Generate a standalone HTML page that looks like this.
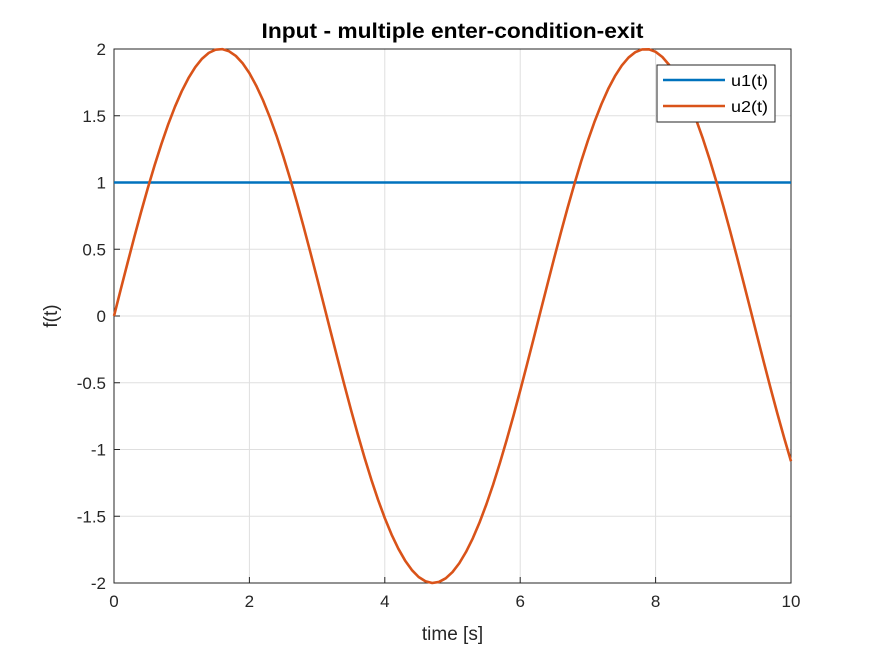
<!DOCTYPE html>
<html><head><meta charset="utf-8"><style>
body{margin:0;background:#fff;}
svg{display:block;font-family:"Liberation Sans",Arial,sans-serif;}
</style></head><body>
<svg id="chart" width="875" height="656"></svg>
<script>
const xTicks=[0,2,4,6,8,10];
const yTicks=[-2,-1.5,-1,-0.5,0,0.5,1,1.5,2];
const yTickLabels=["-2","-1.5","-1","-0.5","0","0.5","1","1.5","2"];
const tValues=[0,0.1,0.2,0.3,0.4,0.5,0.6,0.7,0.8,0.9,1,1.1,1.2,1.3,1.4,1.5,1.6,1.7,1.8,1.9,2,2.1,2.2,2.3,2.4,2.5,2.6,2.7,2.8,2.9,3,3.1,3.2,3.3,3.4,3.5,3.6,3.7,3.8,3.9,4,4.1,4.2,4.3,4.4,4.5,4.6,4.7,4.8,4.9,5,5.1,5.2,5.3,5.4,5.5,5.6,5.7,5.8,5.9,6,6.1,6.2,6.3,6.4,6.5,6.6,6.7,6.8,6.9,7,7.1,7.2,7.3,7.4,7.5,7.6,7.7,7.8,7.9,8,8.1,8.2,8.3,8.4,8.5,8.6,8.7,8.8,8.9,9,9.1,9.2,9.3,9.4,9.5,9.6,9.7,9.8,9.9,10];
const u1T=[0,10];
const u1Values=[1,1];
const u2Values=[0,0.200,0.397,0.591,0.779,0.959,1.129,1.288,1.435,1.567,1.683,1.782,1.864,1.927,1.971,1.995,1.999,1.983,1.948,1.893,1.819,1.726,1.617,1.491,1.351,1.197,1.031,0.855,0.670,0.478,0.282,0.083,-0.117,-0.315,-0.511,-0.702,-0.885,-1.060,-1.224,-1.376,-1.514,-1.637,-1.743,-1.832,-1.903,-1.955,-1.987,-2.000,-1.992,-1.965,-1.918,-1.852,-1.767,-1.665,-1.546,-1.411,-1.263,-1.101,-0.929,-0.748,-0.559,-0.364,-0.166,0.034,0.233,0.430,0.623,0.810,0.988,1.157,1.314,1.458,1.587,1.701,1.797,1.876,1.936,1.976,1.997,1.998,1.979,1.940,1.881,1.804,1.709,1.597,1.469,1.326,1.170,1.002,0.824,0.638,0.446,0.249,0.050,-0.150,-0.349,-0.544,-0.733,-0.915,-1.088];

const NS="http://www.w3.org/2000/svg";
const svg=document.getElementById('chart');
const L=114,R=791,T=49,B=583;
const xs=v=>L+(v-0)/(10-0)*(R-L);
const ys=v=>B-(v+2)/4*(B-T);
function mk(tag,attrs,parent){const e=document.createElementNS(NS,tag);for(const k in attrs)e.setAttribute(k,attrs[k]);(parent||svg).appendChild(e);return e;}

const bg=mk('rect',{x:L,y:T,width:R-L,height:B-T,fill:'#fff'});



xTicks.forEach(v=>{
  const g=mk('line',{x1:xs(v),x2:xs(v),y1:T,y2:B,stroke:'#dfdfdf','stroke-width':1});
  
  
  const tk=mk('line',{x1:xs(v),x2:xs(v),y1:B,y2:B-6,stroke:'#262626'});
  
  
  const t=mk('text',{x:xs(v),y:B+24,'text-anchor':'middle','font-size':17,fill:'#262626'});
  t.textContent=v;
  
  
});
yTicks.forEach((v,i)=>{
  const g=mk('line',{x1:L,x2:R,y1:ys(v),y2:ys(v),stroke:'#dfdfdf','stroke-width':1});
  
  
  const tk=mk('line',{x1:L,x2:L+6,y1:ys(v),y2:ys(v),stroke:'#262626'});
  
  
  const t=mk('text',{x:L-8,y:ys(v)+6,'text-anchor':'end','font-size':17,fill:'#262626'});
  t.textContent=yTickLabels[i];
  
  
});
const frame=mk('rect',{x:L,y:T,width:R-L,height:B-T,fill:'none',stroke:'#262626','stroke-width':1});



const l1=mk('polyline',{points:u1T.map((t,i)=>xs(t)+','+ys(u1Values[i])).join(' '),fill:'none',stroke:'#0072bd','stroke-width':2.6});


const l2=mk('polyline',{points:tValues.map((t,i)=>xs(t)+','+ys(u2Values[i])).join(' '),fill:'none',stroke:'#d95319','stroke-width':2.6,'stroke-linejoin':'round'});



const title=mk('text',{x:(L+R)/2,y:38,'text-anchor':'middle','font-size':21,'font-weight':'bold',fill:'#000',textLength:382,lengthAdjust:'spacingAndGlyphs'});
title.textContent='Input - multiple enter-condition-exit';


const xl=mk('text',{x:(L+R)/2,y:640,'text-anchor':'middle','font-size':19,fill:'#262626'});
xl.textContent='time [s]';


const yl=mk('text',{x:57,y:316,'text-anchor':'middle','font-size':19,fill:'#262626',transform:'rotate(-90 57 316)'});
yl.textContent='f(t)';



const lg=mk('g',{});


mk('rect',{x:657,y:65,width:118,height:57,fill:'#fff',stroke:'#262626','stroke-width':1},lg);
[['u1(t)','#0072bd',80],['u2(t)','#d95319',106]].forEach(([n,c,y])=>{
  const e=mk('g',{},lg);
  
  
  mk('line',{x1:663,x2:725,y1:y,y2:y,stroke:c,'stroke-width':2.6},e);
  const t=mk('text',{x:731,y:y+6,'font-size':16,fill:'#000',textLength:37,lengthAdjust:'spacingAndGlyphs'},e);
  t.textContent=n;
});
</script>
</body></html>
